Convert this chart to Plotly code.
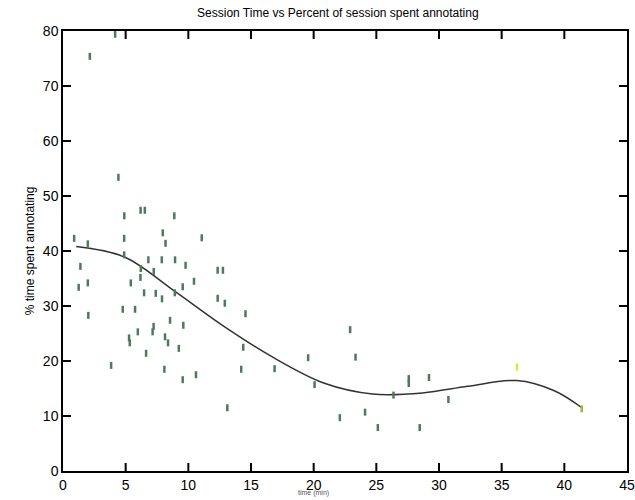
import plotly.graph_objects as go

# Session length (minutes) and share of the session spent annotating (%)
session_min = [
    0.89, 1.25, 1.39, 1.98, 1.98, 2.02, 2.14, 3.84, 4.16, 4.42,
    4.77, 4.89, 4.88, 4.88, 5.27, 5.33, 5.41, 5.75, 5.97, 6.19,
    6.53, 6.21, 6.18, 6.47, 6.63, 6.81, 7.15, 7.23, 7.24, 7.40,
    7.90, 7.88, 7.96, 8.18, 8.09, 8.14, 8.38, 8.54, 8.88, 8.94,
    8.92, 9.24, 9.55, 9.55, 9.60, 9.78, 10.45, 10.61, 11.07, 12.34,
    12.76, 12.34, 12.91, 13.11, 14.22, 14.38, 14.56, 16.88, 19.56, 20.07,
    22.91, 23.34, 22.09, 24.10, 25.12, 26.37, 27.59, 27.59, 29.20, 30.75,
    28.46,
]
pct_annotating = [
    42.3, 33.4, 37.2, 41.3, 34.2, 28.3, 75.4, 19.2, 79.4, 53.4,
    29.4, 46.4, 42.3, 39.3, 24.2, 23.3, 34.2, 29.4, 25.3, 47.4,
    47.4, 36.8, 35.2, 32.4, 21.4, 38.4, 25.3, 26.3, 36.3, 32.3,
    31.3, 38.4, 43.3, 41.4, 18.5, 24.4, 23.3, 27.4, 46.4, 38.4,
    32.4, 22.3, 16.6, 33.5, 26.5, 37.4, 34.5, 17.5, 42.4, 36.5,
    36.5, 31.4, 30.5, 11.5, 18.5, 22.5, 28.6, 18.6, 20.6, 15.7,
    25.7, 20.7, 9.7, 10.7, 7.9, 13.8, 16.8, 15.9, 17.0, 13.0,
    7.9,
]

# Two long sessions plotted in yellow tones
long_min = [36.22, 41.39]
long_pct = [18.9, 11.3]
long_colors = ["#e2e23c", "#a8b83a"]

# Smooth trend through the cloud
trend_min = [1.05, 4.9, 8.9, 12.9, 16.8, 20.8, 24.7, 28.7, 32.3, 36.2, 39.2, 41.4]
trend_pct = [40.8, 38.9, 32.7, 26.2, 20.6, 16.0, 14.0, 14.2, 15.4, 16.45, 14.6, 11.5]

x_ticks = [0, 5, 10, 15, 20, 25, 30, 35, 40, 45]
y_ticks = [0, 10, 20, 30, 40, 50, 60, 70, 80]
x_range = [0, 45]
y_range = [0, 80]

FONT = "Liberation Sans, Arial, Helvetica, sans-serif"
TICK_PX = 8

fig = go.Figure()

fig.add_trace(go.Scatter(
    x=trend_min, y=trend_pct, mode="lines",
    line=dict(color="#333333", width=1.5, shape="spline", smoothing=1.0),
    hoverinfo="skip", showlegend=False,
))

fig.add_trace(go.Scatter(
    x=session_min, y=pct_annotating, mode="markers",
    marker=dict(symbol="line-ns", size=5,
                line=dict(color="#4c7a5e", width=2.5)),
    showlegend=False,
))

fig.add_trace(go.Scatter(
    x=long_min, y=long_pct, mode="markers",
    marker=dict(symbol="line-ns", size=5,
                line=dict(color=long_colors, width=2.5)),
    showlegend=False,
))

axis_common = dict(
    showgrid=False, zeroline=False, showline=True, linecolor="black",
    linewidth=1.5, mirror=True, ticks="", automargin=False,
    tickfont=dict(family=FONT, size=14, color="black"),
)

# inward tick marks on all four sides of the frame
tick_line = dict(color="black", width=2)
shapes = []
for xv in x_ticks[1:-1]:
    shapes.append(dict(type="line", xref="x", yref="y", ysizemode="pixel",
                       yanchor=y_range[0], x0=xv, x1=xv, y0=0, y1=TICK_PX,
                       line=tick_line, layer="above"))
    shapes.append(dict(type="line", xref="x", yref="y", ysizemode="pixel",
                       yanchor=y_range[1], x0=xv, x1=xv, y0=0, y1=-TICK_PX,
                       line=tick_line, layer="above"))
for yv in y_ticks[1:-1]:
    shapes.append(dict(type="line", xref="x", yref="y", xsizemode="pixel",
                       xanchor=x_range[0], y0=yv, y1=yv, x0=0, x1=TICK_PX,
                       line=tick_line, layer="above"))
    shapes.append(dict(type="line", xref="x", yref="y", xsizemode="pixel",
                       xanchor=x_range[1], y0=yv, y1=yv, x0=0, x1=-TICK_PX,
                       line=tick_line, layer="above"))

fig.update_layout(
    width=635, height=500,
    margin=dict(l=63, r=8, t=31, b=29, autoexpand=False),
    paper_bgcolor="white", plot_bgcolor="white",
    xaxis=dict(range=x_range, tickvals=x_ticks,
               ticktext=[str(v) for v in x_ticks], **axis_common),
    yaxis=dict(range=y_range, tickvals=y_ticks,
               ticktext=[str(v) for v in y_ticks], **axis_common),
    shapes=shapes,
    title=dict(text="Session Time vs Percent of session spent annotating",
               x=0.532, xanchor="center", y=0.974, yanchor="middle",
               font=dict(family=FONT, size=12, color="black")),
    font=dict(family=FONT, color="black"),
    annotations=[
        dict(text="% time spent annotating", textangle=-90,
             xref="paper", yref="paper", x=-0.058, y=0.5,
             xanchor="center", yanchor="middle", showarrow=False,
             font=dict(family=FONT, size=12, color="black")),
        dict(text="time (min)", xref="paper", yref="paper",
             x=0.445, y=-0.036, xanchor="center", yanchor="top",
             showarrow=False,
             font=dict(family=FONT, size=7, color="#555555")),
    ],
)

fig.write_html("out.html")
